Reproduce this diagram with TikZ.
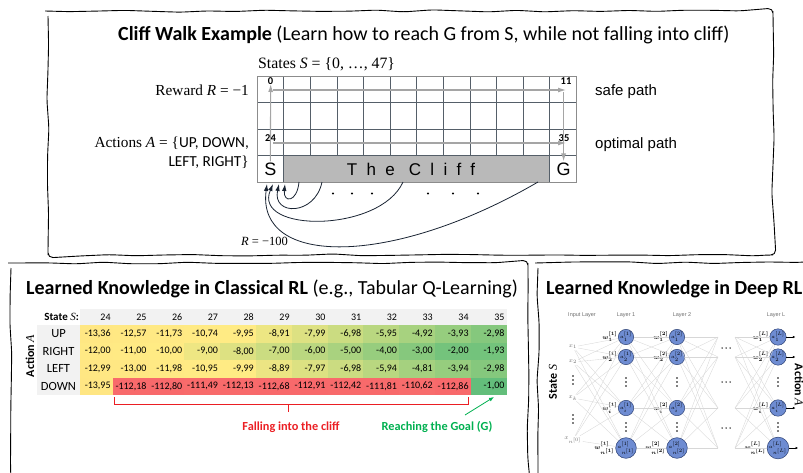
\documentclass[tikz,border=0pt]{standalone}
\usepackage{fontspec}
\setmainfont{Carlito}
\newfontfamily\timesfont{Liberation Serif}
\newfontfamily\arialfont{Liberation Sans}
\newfontfamily\clifffont[LetterSpace=55]{Liberation Sans}
\usetikzlibrary{arrows.meta, positioning, calc, decorations.pathmorphing}
\definecolor{gridline}{RGB}{85,95,105}
\definecolor{gridborder}{RGB}{140,140,140}
\definecolor{cliffgray}{RGB}{185,185,185}
\definecolor{pathgray}{RGB}{165,165,165}
\definecolor{curvedark}{RGB}{25,35,50}
\definecolor{qred}{RGB}{248,105,107}
\definecolor{qyellow}{RGB}{255,235,132}
\definecolor{qgreen}{RGB}{99,190,123}
\definecolor{hdrgray}{RGB}{242,242,242}
\definecolor{brackred}{RGB}{235,30,35}
\definecolor{goalgreen}{RGB}{0,176,80}
\definecolor{nnfill}{RGB}{110,140,210}
\definecolor{nndraw}{RGB}{45,65,115}
\definecolor{nnline}{RGB}{215,215,215}
\definecolor{nntext}{RGB}{110,110,110}
\def\commanum#1.#2\relax{#1,#2}
\tikzset{
  sketchframe/.style={draw=black, line width=0.9pt, rounded corners=5pt,
    decorate, decoration={random steps, segment length=28pt, amplitude=1.2pt}},
  paneltitle/.style={anchor=base west, font=\fontsize{20}{22}\selectfont, inner sep=0pt},
  gridln/.style={draw=gridline, line width=0.6pt},
  safepath/.style={-{Latex[length=8pt,width=5pt]}, draw=pathgray, line width=1.1pt},
  fallarrow/.style={-{Latex[length=7pt,width=4.5pt]}, draw=curvedark, line width=0.8pt},
  cellnum/.style={font=\bfseries\fontsize{10.5}{10.5}\selectfont, inner sep=0pt},
  bigletter/.style={font=\arialfont\fontsize{18}{18}\selectfont, inner sep=1pt},
  sidelabel/.style={anchor=base east, font=\fontsize{15.3}{17}\selectfont, inner sep=0pt},
  pathlabel/.style={anchor=base west, font=\arialfont\fontsize{15}{17}\selectfont, inner sep=0pt},
  qcell/.style={anchor=east, inner sep=0pt, font=\fontsize{10}{10}\selectfont},
  rowlabel/.style={font=\fontsize{12.5}{13}\selectfont, inner sep=0pt},
  neuron/.style={circle, draw=nndraw, fill=nnfill, line width=0.5pt,
    minimum size=15pt, inner sep=0pt, font=\fontsize{3.6}{3.6}\selectfont},
  weightlbl/.style={anchor=east, inner sep=0.6pt, font=\fontsize{6}{6}\selectfont\boldmath},
  nnlink/.style={draw=nnline, line width=0.35pt},
  layerlbl/.style={font=\arialfont\fontsize{5.5}{6}\selectfont, text=nntext},
  inputlbl/.style={font=\fontsize{6}{6}\selectfont, text=nntext, inner sep=1pt},
  notelabel/.style={anchor=base, inner sep=0pt, font=\bfseries\fontsize{12.3}{14}\selectfont}
}

\begin{document}
\begin{tikzpicture}[x=1pt, y=-1pt]
  \useasboundingbox (0,0) rectangle (803,472);
  \clip (0,0) rectangle (803,472);

  % Frames
  \draw[sketchframe] (48,11) rectangle (773,255);
  \draw[sketchframe] (11,263) rectangle (528,490);
  \draw[sketchframe] (538,263) rectangle (830,490);

  % Cliff walk
  \node[paneltitle] (title) at (118,40)
    {\textbf{Cliff Walk Example} (Learn how to reach G from S, while not falling into cliff)};
  \node[anchor=base west, inner sep=0pt, font=\timesfont\fontsize{15.8}{18}\selectfont] (states) at (258,68)
    {States \textit{S} = \{0, …, 47\}};

  \fill[cliffgray] (257+26.6,155.5) rectangle (257+26.6*11,182);
  \foreach \i in {1,...,11}
    \draw[gridln] (257+26.6*\i,76) -- (257+26.6*\i,155.5);
  \foreach \j in {1,2,3}
    \draw[gridln] (257,76+26.5*\j) -- (576.6,76+26.5*\j);
  \draw[gridln] (257+26.6,155.5) -- (257+26.6,182);
  \draw[gridln] (257+26.6*11,155.5) -- (257+26.6*11,182);
  \draw[draw=gridborder, line width=0.8pt] (257,76) rectangle (576.6,182);

  \node[bigletter] (S) at (270.3,169) {S};
  \node[bigletter] (G) at (563.6,169) {G};
  \node[font=\clifffont\fontsize{17}{17}\selectfont] (cliff) at (411,169) {The Cliff};
  \node[cellnum] (n0) at (270.5,81.5) {0};
  \node[cellnum] (n11) at (566,81.5) {11};
  \node[cellnum] (n24) at (270.5,138.5) {24};
  \node[cellnum] (n35) at (564,138.5) {35};

  % safe and optimal paths
  \coordinate (up0) at (270.7,84);
  \coordinate (row0a) at (273,90);
  \coordinate (row0b) at (566,90);
  \coordinate (down11) at (563.6,92);
  \coordinate (row2a) at (273,143);
  \coordinate (row2b) at (566,143);
  \draw[safepath] (S) -- (up0);
  \draw[safepath] (row0a) -- (row0b);
  \draw[safepath] (down11) -- (G);
  \draw[safepath] (row2a) -- (row2b);

  \node[sidelabel] (reward) at (249,95) {\timesfont Reward \textit{R} = −1};
  \node[sidelabel] (act1) at (249,147) {{\timesfont Actions \textit{A} = \{}UP, DOWN,};
  \node[sidelabel] (act2) at (249,166) {LEFT, RIGHT{\timesfont\}}};
  \node[pathlabel] (safe) at (595,95) {safe path};
  \node[pathlabel] (optimal) at (595,148) {optimal path};

  % falling back to start
  \coordinate (fall1) at (299,182);
  \coordinate (fall2) at (322,182);
  \coordinate (fall3) at (403,182);
  \coordinate (fall4) at (538,182);
  \coordinate (land1) at (285,184);
  \coordinate (land2) at (279,184);
  \coordinate (land3) at (273,184);
  \coordinate (land4) at (267,184);
  \draw[fallarrow] (fall1) .. controls (297,203) and (283,203) .. (land1);
  \draw[fallarrow] (fall2) .. controls (315,216) and (272,216) .. (land2);
  \draw[fallarrow] (fall3) .. controls (380,233) and (252,233) .. (land3);
  \draw[fallarrow] (fall4) .. controls (392,267) and (256,267) .. (land4);
  \foreach \dx in {333,352,372,428,453,478}
    \fill (\dx,193.5) circle (1.2pt);
  \node[anchor=base east, inner sep=0pt, font=\timesfont\fontsize{12.5}{14}\selectfont] (rfall) at (288,245)
    {\textit{R} = −100};

  % Classical RL
  \node[paneltitle] (classtitle) at (26,294)
    {\textbf{Learned Knowledge in Classical RL} (e.g., Tabular Q-Learning)};
  \fill[hdrgray] (80,309) rectangle (506.6,325);
  \fill[hdrgray] (37,325) rectangle (80,395);
  \node[anchor=east, inner sep=0pt, font=\bfseries\fontsize{11}{11}\selectfont] (statehdr) at (79,317)
    {State {\timesfont\mdseries\textit{S}}:};
  \foreach \s [count=\c from 0] in {24,...,35}
    \node[qcell] (hdr-\s) at (110.8+35.8*\c,317) {\s};
  \foreach \act/\vals [count=\r from 0] in {
      UP/{-13.36,-12.57,-11.73,-10.74,-9.95,-8.91,-7.99,-6.98,-5.95,-4.92,-3.93,-2.98},
      RIGHT/{-12.00,-11.00,-10.00,-9.00,-8.00,-7.00,-6.00,-5.00,-4.00,-3.00,-2.00,-1.93},
      LEFT/{-12.99,-13.00,-11.98,-10.95,-9.99,-8.89,-7.97,-6.98,-5.94,-4.81,-3.94,-2.98},
      DOWN/{-13.95,-112.18,-112.80,-111.49,-112.13,-112.68,-112.91,-112.42,-111.81,-110.62,-112.86,-1.00}} {
    \node[rowlabel] (act-\r) at (58.5,333.75+17.5*\r) {\act};
    \foreach \v [count=\c from 0] in \vals {
      \ifdim\v pt<-9.97pt
        \pgfmathsetmacro\pct{100*(\v+112.91)/102.94}
        \colorlet{cellcol}{qyellow!\pct!qred}
      \else
        \pgfmathsetmacro\pct{100*(\v+9.97)/8.97}
        \colorlet{cellcol}{qgreen!\pct!qyellow}
      \fi
      \pgfmathsetmacro\xl{max(80,77+35.8*\c)}
      \fill[cellcol] (\xl,325+17.5*\r) rectangle (112.8+35.8*\c,342.5+17.5*\r);
      \node[qcell] (q-\r-\c) at (110.8+35.8*\c,333.75+17.5*\r) {\expandafter\commanum\v\relax};
    }
  }
  \node[rotate=90, inner sep=0pt, font=\bfseries\fontsize{12}{12}\selectfont] (actaxis) at (30,356)
    {Action {\timesfont\mdseries\textit{A}}};

  \draw[draw=brackred, line width=1pt] (114,397) -- (114,404) -- (468,404) -- (468,397);
  \coordinate (brackmid) at (288,404);
  \coordinate (bracktip) at (288,412);
  \draw[draw=brackred, line width=1pt] (brackmid) -- (bracktip);
  \node[notelabel, text=brackred] (falling) at (291,430) {Falling into the cliff};
  \node[notelabel, text=goalgreen] (goal) at (437,430) {Reaching the Goal (G)};
  \coordinate (goalfrom) at (465,415);
  \coordinate (goaltip) at (494,397);
  \draw[-{Latex[length=5pt,width=4pt]}, draw=goalgreen, line width=0.8pt] (goalfrom) -- (goaltip);

  % Deep RL
  \node[paneltitle] (deeptitle) at (546,294) {\textbf{Learned Knowledge in Deep RL}};
  \node[rotate=90, inner sep=0pt, font=\bfseries\fontsize{12}{12}\selectfont] (stateaxis) at (553,382)
    {State {\timesfont\mdseries\textit{S}}};
  \node[rotate=-90, inner sep=0pt, font=\bfseries\fontsize{12}{12}\selectfont] (actionaxis) at (799,385)
    {Action {\timesfont\mdseries\textit{A}}};
  \node[layerlbl] (lin) at (582,315) {Input Layer};
  \node[layerlbl] (l1) at (626,315) {Layer 1};
  \node[layerlbl] (l2) at (682,315) {Layer 2};
  \node[layerlbl] (lL) at (776,315) {Layer L};

  \foreach \y/\sub/\nm in {347/1/x1, 362/2/x2, 398/k/xk, 440/{n^{[0]}}/xn}
    \node[inputlbl] (\nm) at (573,\y) {$x_{\sub}$};

  \foreach \lx/\ly in {626/1, 677/2, 778/L} {
    \foreach \y/\k/\sub in {337/1/1, 357/2/2, 408/i/i, 448/n/{n^{[\ly]}}} {
      \node[neuron] (n\ly-\k) at (\lx,\y) {$a^{[\ly]}_{\sub}$};
      \node[weightlbl] at (n\ly-\k.west) {$w^{[\ly]}_{\sub}$};
    }
  }
  % vertical and horizontal dots
  \foreach \dx/\dy in {573/380, 573/419, 626/382, 626/427, 677/382, 677/427, 778/382, 778/427}
    \foreach \k in {-4,0,4}
      \fill (\dx,\dy+\k) circle (0.8pt);
  \foreach \dy in {348,382,428}
    \foreach \k in {-4,0,4}
      \fill (726+\k,\dy) circle (0.75pt);

  \foreach \y in {337,357,408,448} {
    \coordinate (hid-a-\y) at (718,\y);
    \coordinate (hid-b-\y) at (735,\y);
  }
  \foreach \a in {x1,x2,xk,xn}
    \foreach \b in {1,2,i,n}
      \draw[nnlink] (\a) -- (n1-\b);
  \foreach \a in {1,2,i,n}
    \foreach \b in {1,2,i,n}
      \draw[nnlink] (n1-\a) -- (n2-\b);
  \foreach \a in {1,2,i,n}
    \foreach \y in {337,357,408,448} {
      \draw[nnlink] (n2-\a) -- (hid-a-\y);
      \draw[nnlink] (hid-b-\y) -- (nL-\a);
    }
  \foreach \b in {1,2,i,n} {
    \coordinate (out-\b) at ($(nL-\b.east)+(9,0)$);
    \draw[-{Latex[length=2.5pt,width=2.5pt]}, line width=0.5pt] (nL-\b) -- (out-\b);
  }
\end{tikzpicture}
\end{document}
